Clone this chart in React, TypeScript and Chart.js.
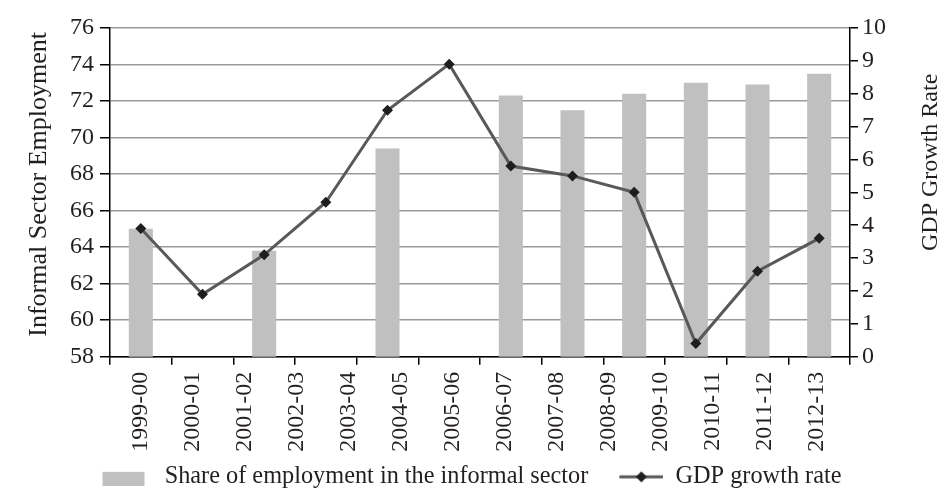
import React, { useEffect, useRef } from 'react';
import { Chart, registerables } from 'chart.js';

Chart.register(...registerables);

// ---- data ----
const yearLabels = [
  '1999-00', '2000-01', '2001-02', '2002-03', '2003-04', '2004-05', '2005-06',
  '2006-07', '2007-08', '2008-09', '2009-10', '2010-11', '2011-12', '2012-13',
];
const informalShare: (number | null)[] = [65.0, null, 63.8, null, 69.4, null, 72.3, 71.5, 72.4, 73.0, 72.9, 73.5];
const gdpGrowth = [3.9, 1.9, 3.1, 4.7, 7.5, 8.9, 5.8, 5.5, 5.0, 0.4, 2.6, 3.6];
const slots = gdpGrowth.map((_, i) => `P${i + 1}`);
const leftRange = [58, 76, 2];
const rightRange = [0, 10, 1];
const barName = 'Share of employment in the informal sector';
const lineName = 'GDP growth rate';
const leftTitle = 'Informal Sector Employment';
const rightTitle = 'GDP Growth Rate';

// ---- styles ----
const FONT = "'Liberation Serif', 'Times New Roman', serif";
const TEXT = '#231f20';
const BAR = '#c0c0c0';
const LINE = '#595959';
const MARK = '#1e1e1e';
const GRID = '#9a9a9a';

function barIcon() {
  const c = document.createElement('canvas');
  c.width = 62;
  c.height = 18;
  const ctx = c.getContext('2d')!;
  ctx.fillStyle = BAR;
  ctx.fillRect(12, 4, 42, 14);
  return c;
}

function lineIcon() {
  const c = document.createElement('canvas');
  c.width = 62;
  c.height = 14;
  const ctx = c.getContext('2d')!;
  ctx.strokeStyle = LINE;
  ctx.lineWidth = 3;
  ctx.beginPath();
  ctx.moveTo(18, 7);
  ctx.lineTo(62, 7);
  ctx.stroke();
  ctx.fillStyle = MARK;
  ctx.beginPath();
  ctx.moveTo(40, 1.5);
  ctx.lineTo(45.5, 7);
  ctx.lineTo(40, 12.5);
  ctx.lineTo(34.5, 7);
  ctx.closePath();
  ctx.fill();
  return c;
}

const titlesPlugin = {
  id: 'sideTitles',
  afterDraw(chart: any) {
    const { ctx, chartArea } = chart;
    const mid = (chartArea.top + chartArea.bottom) / 2;
    const draw = (text: string, size: number, x: number, y: number) => {
      ctx.save();
      ctx.fillStyle = TEXT;
      ctx.font = `${size}px ${FONT}`;
      ctx.textAlign = 'center';
      ctx.textBaseline = 'middle';
      ctx.translate(x, y);
      ctx.rotate(-Math.PI / 2);
      ctx.fillText(text, 0, 0);
      ctx.restore();
    };
    draw(leftTitle, 26, 39, mid - 8);
    draw(rightTitle, 24, 931, mid - 30);
  },
};

export default function App() {
  const ref = useRef<HTMLCanvasElement>(null);

  useEffect(() => {
    if (!ref.current) return;
    const icons = [barIcon(), lineIcon()];
    const chart = new Chart(ref.current, {
      type: 'bar',
      data: {
        labels: slots,
        datasets: [
          {
            type: 'bar',
            label: barName,
            data: informalShare,
            backgroundColor: BAR,
            borderWidth: 0,
            xAxisID: 'x',
            yAxisID: 'y',
            categoryPercentage: 1,
            barPercentage: 0.39,
            order: 2,
          } as any,
          {
            type: 'line',
            label: lineName,
            data: gdpGrowth,
            borderColor: LINE,
            borderWidth: 3,
            tension: 0,
            pointStyle: 'rectRot',
            pointRadius: 5.5,
            pointBackgroundColor: MARK,
            pointBorderColor: MARK,
            pointBorderWidth: 0,
            xAxisID: 'x',
            yAxisID: 'y1',
            order: 1,
          } as any,
        ],
      },
      options: {
        responsive: false,
        animation: false,
        layout: { padding: { top: 28, bottom: 1, left: 0, right: 16 } },
        plugins: {
          tooltip: { enabled: false },
          title: { display: false },
          legend: {
            position: 'bottom',
            labels: {
              usePointStyle: true,
              pointStyleWidth: 62,
              padding: 13,
              color: TEXT,
              font: { family: FONT, size: 24.3 },
              generateLabels: () =>
                [barName, lineName].map((text, i) => ({
                  text,
                  pointStyle: icons[i],
                  fillStyle: i === 0 ? BAR : MARK,
                  strokeStyle: 'transparent',
                  lineWidth: 0,
                  hidden: false,
                  datasetIndex: i,
                  fontColor: TEXT,
                })) as any,
            },
          },
        },
        scales: {
          x: {
            type: 'category',
            position: 'bottom',
            offset: true,
            grid: {
              offset: true,
              drawOnChartArea: false,
              drawTicks: true,
              tickLength: 8,
              tickColor: '#000',
              lineWidth: 1.5,
            },
            border: { display: true, color: '#000', width: 1.5 },
            ticks: { display: false },
          },
          x2: {
            type: 'linear',
            position: 'bottom',
            offset: false,
            min: -0.58,
            max: 13.63,
            grid: { display: false, drawTicks: false, tickLength: 0, offset: false },
            border: { display: false },
            afterBuildTicks: (axis: any) => {
              axis.ticks = yearLabels.map((_, i) => ({ value: i }));
            },
            afterFit: (s: any) => {
              s.height = 87;
            },
            ticks: {
              autoSkip: false,
              minRotation: 90,
              maxRotation: 90,
              padding: 7,
              color: TEXT,
              font: { family: FONT, size: 24 },
              callback: (_v: any, i: number) => yearLabels[i],
            },
          },
          y: {
            type: 'linear',
            position: 'left',
            min: leftRange[0],
            max: leftRange[1],
            afterFit: (s: any) => {
              s.width = 110;
            },
            grid: { color: GRID, lineWidth: 1.5, tickColor: '#000', tickLength: 10 },
            border: { display: true, color: '#000', width: 1.5 },
            ticks: {
              stepSize: leftRange[2],
              autoSkip: false,
              padding: 6,
              color: TEXT,
              font: { family: FONT, size: 24 },
            },
          },
          y1: {
            type: 'linear',
            position: 'right',
            min: rightRange[0],
            max: rightRange[1],
            afterFit: (s: any) => {
              s.width = 82;
            },
            grid: { drawOnChartArea: false, tickColor: '#000', tickLength: 8, lineWidth: 1.5 },
            border: { display: true, color: '#000', width: 1.5 },
            ticks: {
              stepSize: rightRange[2],
              autoSkip: false,
              padding: 4,
              color: TEXT,
              font: { family: FONT, size: 24, lineHeight: 1 },
            },
          },
        },
      } as any,
      plugins: [titlesPlugin],
    });
    return () => chart.destroy();
  }, []);

  return (
    <div style={{ position: 'fixed', left: 0, top: 0, width: 948, height: 500, background: '#fff' }}>
      <canvas ref={ref} width={948} height={500} style={{ display: 'block' }} />
    </div>
  );
}
